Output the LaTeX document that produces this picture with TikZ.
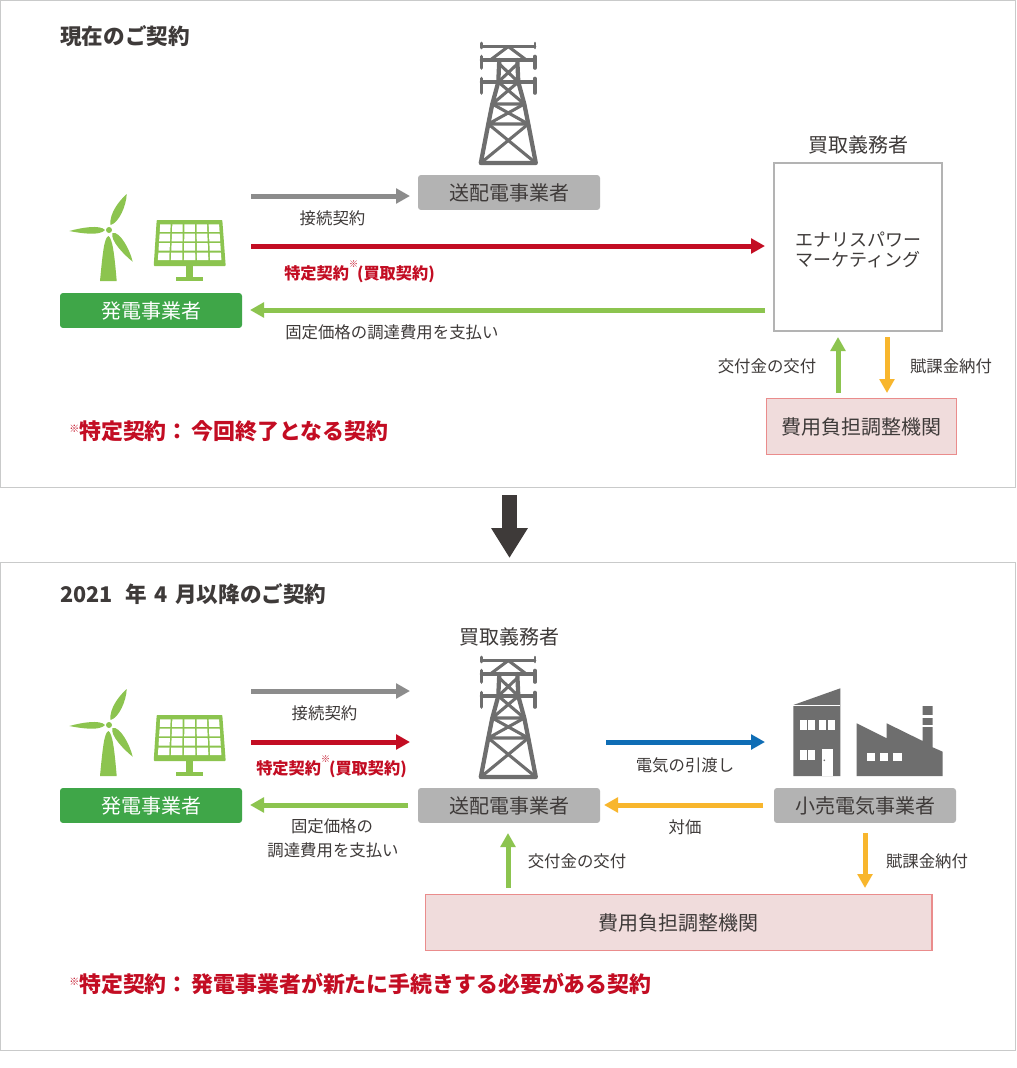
\documentclass[tikz,border=0pt]{standalone}
\usepackage{fontspec}
\setmainfont{Noto Sans CJK JP}
\usetikzlibrary{arrows.meta}
\definecolor{ink}{HTML}{3E3A39}
\definecolor{panelline}{HTML}{C9CACA}
\definecolor{grayfill}{HTML}{B3B3B3}
\definecolor{greenbox}{HTML}{3FA648}
\definecolor{leaf}{HTML}{8CC44F}
\definecolor{redc}{HTML}{C30D23}
\definecolor{bluec}{HTML}{0F6DB5}
\definecolor{yellowc}{HTML}{F8B62D}
\definecolor{pinkfill}{HTML}{F0DCDC}
\definecolor{pinkline}{HTML}{EA8C8C}
\definecolor{midgray}{HTML}{8C8C8C}
\definecolor{icongray}{HTML}{6E6E6E}
\newcommand{\ftx}[1]{\fontsize{\dimexpr #1pt*3/4\relax}{\dimexpr #1pt*9/10\relax}\selectfont}
\newcommand{\kome}{\raisebox{0.72em}{\fontsize{6.8pt}{8pt}\selectfont ※}\kern-0.8pt}
\newcommand{\komenote}{\raisebox{0.3em}{\fontsize{7.5pt}{8pt}\selectfont ※}}
\tikzset{
  x=0.75pt,y=-0.75pt,
  panel/.style={draw=panelline,line width=0.75pt,fill=white},
  greybox/.style={fill=grayfill,rounded corners=2.2pt,text=ink,font=\ftx{20}},
  greenlabel/.style={fill=greenbox,rounded corners=2.2pt,text=white,font=\ftx{20}},
  pinkbox/.style={fill=pinkfill,draw=pinkline,line width=1pt,text=ink,font=\ftx{20}},
  txt/.style={text=ink,font=\ftx{16.4},inner sep=0pt},
  heading/.style={text=ink,font=\bfseries\ftx{21.6},inner sep=0pt,anchor=west},
  redtxt/.style={text=redc,font=\bfseries\ftx{16.2},inner sep=0pt},
  rednote/.style={text=redc,font=\bfseries\ftx{21.9},inner sep=0pt,anchor=west},
  flow/.style={line width=3.75pt,-{Triangle[length=10.5pt,width=11pt]}},
}
\tikzset{
  turbine/.pic={
    \fill[leaf] (100,281) .. controls (102.5,255) and (104,238) .. (108.3,236) .. controls (112.5,238) and (114.5,255) .. (116.7,281) -- cycle;
    \fill[leaf] (109,230) circle[radius=3];
    \fill[leaf] (110.5,225) .. controls (109,213) and (120,200) .. (126.7,194) .. controls (126.5,205) and (119,223) .. (110.5,225) -- cycle;
    \fill[leaf] (105,230) .. controls (100,224.5) and (82,227.5) .. (69.3,231) .. controls (82,233.5) and (100,236) .. (105,230) -- cycle;
    \fill[leaf] (112.5,233) .. controls (120,231) and (130,250) .. (132.7,261.7) .. controls (123,254) and (110,240) .. (112.5,233) -- cycle;
  },
  solar/.pic={
    \fill[leaf,rounded corners=0.6pt] (156.7,220) -- (222.3,220) -- (225.7,266) -- (153.7,266) -- cycle;
    \fill[leaf] (186,266) rectangle (193.3,277.5);
    \fill[leaf] (176,277) rectangle (203,280.7);
    \foreach \r in {0,1,2,3}{\foreach \c in {0,1,2,3,4}{
      \pgfmathsetmacro{\ya}{224.3+\r*9.4}
      \pgfmathsetmacro{\yb}{\ya+7.6}
      \pgfmathsetmacro{\la}{160.5-(\ya-220)*0.065}
      \pgfmathsetmacro{\lb}{160.5-(\yb-220)*0.065}
      \pgfmathsetmacro{\wa}{(60+(\ya-220)*0.13)/5}
      \pgfmathsetmacro{\wb}{(60+(\yb-220)*0.13)/5}
      \fill[white] (\la+\c*\wa,\ya) -- (\la+\c*\wa+\wa-1.7,\ya) -- (\lb+\c*\wb+\wb-1.7,\yb) -- (\lb+\c*\wb,\yb) -- cycle;
    }}
  },
  pylon/.pic={
    \begin{scope}[icongray,line cap=round,line join=round]
      \draw[line width=1.9pt] (-26.7,3.5) -- (26.7,3.5) (-26.7,0) -- (-26.7,5) (26.7,0) -- (26.7,5);
      \draw[line width=2.7pt] (-26.7,17) -- (26.7,17) (-26.7,13.5) -- (-26.7,25) (26.7,13.5) -- (26.7,25);
      \draw[line width=2.7pt] (-26.7,39) -- (26.7,39) (-26.7,35.5) -- (-26.7,50) (26.7,35.5) -- (26.7,50);
      \draw[line width=2.3pt] (0,3.5) -- (-18,17) (0,3.5) -- (18,17);
      \draw[line width=3.2pt] (-9,17) -- (-10,39) -- (-16,61) -- (-20,81) -- (-27.5,120) -- (27.5,120) -- (20,81) -- (16,61) -- (10,39) -- (9,17);
      \draw[line width=2.3pt] (-9,21) -- (10,39) (9,21) -- (-10,39);
      \draw[line width=2.3pt] (-10,39) -- (16,61) (10,39) -- (-16,61) (-16,61) -- (16,61);
      \draw[line width=2.3pt] (-16,61) -- (20,81) (16,61) -- (-20,81) (-20,81) -- (20,81);
      \draw[line width=2.3pt] (-20,81) -- (27.5,120) (20,81) -- (-27.5,120);
    \end{scope}
  },
  building/.pic={
    \fill[icongray] (793.3,705) -- (840.3,688.3) -- (840.3,776) -- (793.3,776) -- cycle;
    \draw[white,line width=0.4pt] (793.3,705.3) -- (840.3,705.3);
    \foreach \a in {799.5,807.5,818.5,827.5}{\fill[white] (\a,719.5) rectangle ++(7,10);}
    \foreach \a in {799.5,807.5}{\fill[white] (\a,750) rectangle ++(7,10);}
    \fill[white] (821.7,749.3) rectangle (832.7,776);
    \fill[icongray] (824.3,760.3) circle[radius=0.9];
  },
  factory/.pic={
    \fill[icongray] (856.7,723.3) -- (886.7,738.3) -- (886.7,723.3) -- (922.7,741) -- (922.7,706) -- (932.7,706) -- (932.7,747.3) -- (942.7,751.7) -- (942.7,776) -- (856.7,776) -- cycle;
    \fill[white] (922,715) rectangle (933.5,717.7);
    \fill[white] (922,725) rectangle (933.5,727.3);
    \foreach \a in {866.7,880,893.3}{\fill[white] (\a,752.7) rectangle ++(8.3,8);}
  },
}
\begin{document}
\begin{tikzpicture}
\useasboundingbox (0,0) rectangle (1017,1068);
\fill[white] (0,0) rectangle (1017,1068);
\draw[panel] (0.5,0.5) rectangle (1015,487);
\draw[panel] (0.5,562.5) rectangle (1015,1050);

\node[heading] (t1) at (60,36) {現在のご契約};
\pic at (0,0) {turbine};
\pic at (0,0) {solar};
\pic at (508.3,43) {pylon};
\node[greenlabel,minimum width=136.5pt,minimum height=26.2pt,inner sep=0pt] (gen1) at (151,310.5) {発電事業者};
\node[greybox,minimum width=136.5pt,minimum height=26.2pt,inner sep=0pt] (tso1) at (509,192.5) {送配電事業者};
\node[draw=grayfill,line width=1.5pt,minimum width=126pt,minimum height=126pt,inner sep=0pt,fill=white] (buyer1) at (858,247) {};
\node[text=ink,font=\fontsize{13.5pt}{15pt}\selectfont,align=center,inner sep=0pt] (enaris) at (858,250) {エナリスパワー\\マーケティング};
\node[text=ink,font=\ftx{20},inner sep=0pt] (bl1) at (858,145) {買取義務者};
\node[pinkbox,minimum width=142.5pt,minimum height=42pt,inner sep=0pt] (adj1) at (861.5,426.5) {費用負担調整機関};

\coordinate (a1s) at (251,196); \coordinate (a1e) at (410,196);
\coordinate (a2s) at (251,246); \coordinate (a2e) at (765,246);
\coordinate (a3s) at (765,310); \coordinate (a3e) at (250,310);
\coordinate (a4s) at (838,393); \coordinate (a4e) at (838,337);
\coordinate (a5s) at (887,337); \coordinate (a5e) at (887,393);
\draw[flow,midgray] (a1s) -- (a1e);
\draw[flow,redc] (a2s) -- (a2e);
\draw[flow,leaf] (a3s) -- (a3e);
\draw[flow,leaf] (a4s) -- (a4e);
\draw[flow,yellowc] (a5s) -- (a5e);

\node[txt] (l1) at (332.5,218) {接続契約};
\node[redtxt,anchor=west] (l2) at (284,272) {特定契約\kome(買取契約)};
\node[txt,anchor=west] (l3) at (285,332) {固定価格の調達費用を支払い};
\node[txt] (l4) at (767,366) {交付金の交付};
\node[txt] (l5) at (951,366) {賦課金納付};
\node[rednote] (n1) at (69,431) {\komenote 特定契約：\kern2.2pt{}今回終了となる契約};

\coordinate (bigs) at (509.5,495); \coordinate (bige) at (509.5,558);
\draw[ink,line width=11.25pt,-{Triangle[length=22.5pt,width=26pt]}] (bigs) -- (bige);

\node[heading] (t2) at (60,594) {\spaceskip=5.6pt 2021\kern4pt{} 年 4 月以降のご契約};
\pic at (0,495) {turbine};
\pic at (0,495) {solar};
\pic at (508.3,657) {pylon};
\pic at (0,0) {building};
\pic at (0,0) {factory};
\node[text=ink,font=\ftx{20},inner sep=0pt] (bl2) at (509,637) {買取義務者};
\node[greenlabel,minimum width=136.5pt,minimum height=26.2pt,inner sep=0pt] (gen2) at (151,805.5) {発電事業者};
\node[greybox,minimum width=136.5pt,minimum height=26.2pt,inner sep=0pt] (tso2) at (509,805.5) {送配電事業者};
\node[greybox,minimum width=136.5pt,minimum height=26.2pt,inner sep=0pt] (ret) at (865,805.5) {小売電気事業者};
\node[pinkbox,minimum width=380pt,minimum height=42pt,inner sep=0pt] (adj2) at (678.5,922.5) {費用負担調整機関};

\coordinate (b1s) at (251,691); \coordinate (b1e) at (410,691);
\coordinate (b2s) at (251,742); \coordinate (b2e) at (410,742);
\coordinate (b3s) at (408,805); \coordinate (b3e) at (250,805);
\coordinate (b4s) at (606,742); \coordinate (b4e) at (765,742);
\coordinate (b5s) at (763,805); \coordinate (b5e) at (604,805);
\coordinate (b6s) at (508,888); \coordinate (b6e) at (508,833);
\coordinate (b7s) at (865,833); \coordinate (b7e) at (865,888);
\draw[flow,midgray] (b1s) -- (b1e);
\draw[flow,redc] (b2s) -- (b2e);
\draw[flow,leaf] (b3s) -- (b3e);
\draw[flow,bluec] (b4s) -- (b4e);
\draw[flow,yellowc] (b5s) -- (b5e);
\draw[flow,leaf] (b6s) -- (b6e);
\draw[flow,yellowc] (b7s) -- (b7e);

\node[txt] (m1) at (324.5,713) {接続契約};
\node[redtxt,anchor=west] (m2) at (256,767) {特定契約\kome(買取契約)};
\node[txt] (m3) at (332,826) {固定価格の};
\node[txt] (m4) at (333,850) {調達費用を支払い};
\node[txt] (m5) at (685,765) {電気の引渡し};
\node[txt] (m6) at (685,827) {対価};
\node[txt] (m7) at (577,861) {交付金の交付};
\node[txt] (m8) at (927,861) {賦課金納付};
\node[rednote] (n2) at (69,984) {\komenote 特定契約：\kern2.2pt{}発電事業者が新たに手続きする必要がある契約};
\end{tikzpicture}
\end{document}
